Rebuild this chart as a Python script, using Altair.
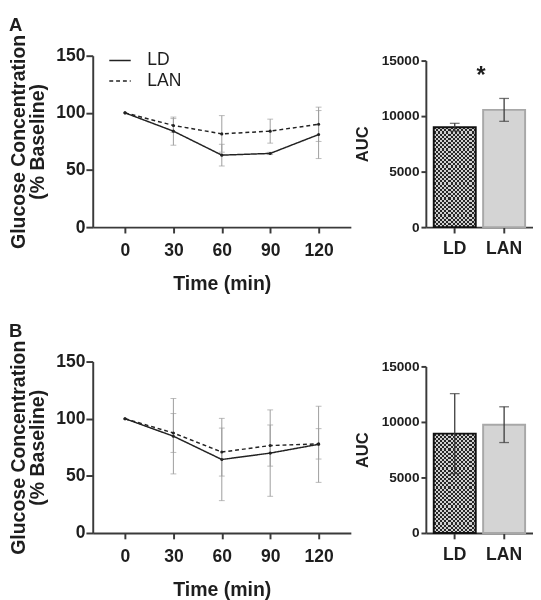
import altair as alt
import pandas as pd

FONT = "Liberation Sans"

time = [0, 30, 60, 90, 120]
groups = ["LD", "LAN"]
time_ticks = [0, 30, 60, 90, 120]
glucose_ticks = [0, 50, 100, 150]
auc_ticks = [0, 5000, 10000, 15000]

# Panel A
a_ld_mean = [100, 84, 63, 64.5, 81]
a_ld_sem = [0, 12.3, 9.5, 1, 21]
a_lan_mean = [100, 89, 81.6, 84, 90]
a_lan_sem = [0, 6, 16, 10.5, 15]
a_auc_mean = [9000, 10560]
a_auc_sem = [350, 1030]
a_sig = ["*", ""]

# Panel B
b_ld_mean = [100, 84.7, 64.3, 69.9, 77.6]
b_ld_sem = [0, 33, 36, 37.8, 33.3]
b_lan_mean = [100, 87.5, 70.8, 76.5, 78]
b_lan_sem = [0, 17, 21, 18, 13.3]
b_auc_mean = [8950, 9755]
b_auc_sem = [3600, 1610]
b_sig = ["", ""]

AXIS_COLOR = "#3a3a3a"
TEXT_COLOR = "#1e1e1e"


def stripes(c1, c2, n, across_x):
    stops = []
    for i in range(n):
        c = c1 if i % 2 == 0 else c2
        stops.append({"offset": i / n, "color": c})
        stops.append({"offset": (i + 1) / n, "color": c})
    if across_x:
        return {"gradient": "linear", "stops": stops, "x1": 0, "y1": 0, "x2": 1, "y2": 0}
    return {"gradient": "linear", "stops": stops, "x1": 0, "y1": 0, "x2": 0, "y2": 1}


# checker texture of the LD bar: columns, then rows blended with "difference"
CHECK_COLS = stripes("#262626", "#cfcfcf", 20, True)
CHECK_ROWS = stripes("#000000", "#f5f5f5", 47, False)


def line_panel(ld_m, ld_s, lan_m, lan_s, legend):
    rows = []
    for g, m, s in (("LD", ld_m, ld_s), ("LAN", lan_m, lan_s)):
        for t, mi, si in zip(time, m, s):
            rows.append({"time": t, "group": g, "mean": mi, "lo": mi - si, "hi": mi + si})
    df = pd.DataFrame(rows)
    base = alt.Chart(df)
    xs = alt.Scale(domain=[-20, 140], nice=False, zero=False)
    ys = alt.Scale(domain=[0, 150], nice=False)
    x = alt.X("time:Q", scale=xs,
              axis=alt.Axis(values=time_ticks, title="Time (min)", tickSize=6,
                            labelPadding=9, titlePadding=15))
    y = alt.Y("mean:Q", scale=ys,
              axis=alt.Axis(values=glucose_ticks,
                            title=["Glucose Concentration", "(% Baseline)"],
                            tickSize=7, labelPadding=1, titlePadding=8,
                            titleFontSize=20, titleLineHeight=20))
    errs = base.transform_filter("datum.hi > datum.lo")
    err = errs.mark_rule(color="#9c9c9c", strokeWidth=1).encode(
        x=alt.X("time:Q", scale=xs), y=alt.Y("lo:Q", scale=ys), y2="hi:Q")
    cap_lo = errs.mark_tick(orient="horizontal", size=6, thickness=1, color="#9c9c9c").encode(
        x=alt.X("time:Q", scale=xs), y=alt.Y("lo:Q", scale=ys))
    cap_hi = errs.mark_tick(orient="horizontal", size=6, thickness=1, color="#9c9c9c").encode(
        x=alt.X("time:Q", scale=xs), y=alt.Y("hi:Q", scale=ys))
    if legend:
        leg = alt.Legend(title=None, orient="none", legendX=16, legendY=-7,
                         symbolType="stroke", symbolSize=484, symbolStrokeWidth=1.5,
                         symbolStrokeColor="#222", labelFontSize=18, labelFont=FONT,
                         labelFontWeight="normal", labelColor=TEXT_COLOR, rowPadding=0,
                         labelOffset=16)
    else:
        leg = None
    lines = base.mark_line(color="#222", strokeWidth=1.5).encode(
        x=x, y=y,
        strokeDash=alt.StrokeDash("group:N", sort=groups,
                                  scale=alt.Scale(domain=groups, range=[[1, 0], [4, 3]]),
                                  legend=leg))
    pts = base.mark_circle(size=10, color="#222", opacity=1).encode(
        x=alt.X("time:Q", scale=xs), y=alt.Y("mean:Q", scale=ys))
    return alt.layer(err, cap_lo, cap_hi, lines, pts).properties(width=265, height=176)


def bar_panel(m, s, sig):
    df = pd.DataFrame({"group": groups, "mean": m,
                       "lo": [a - b for a, b in zip(m, s)],
                       "hi": [a + b for a, b in zip(m, s)],
                       "sig": sig})
    base = alt.Chart(df)
    xs = alt.Scale(domain=groups, paddingInner=0.15, paddingOuter=0.16)
    ys = alt.Scale(domain=[0, 15000], range=[176, 5], nice=False)
    x = alt.X("group:N", sort=groups, scale=xs,
              axis=alt.Axis(title=None, labelAngle=0, tickSize=6, labelPadding=7,
                            labelFontSize=18))
    y = alt.Y("mean:Q", scale=ys,
              axis=alt.Axis(values=auc_ticks, format="d", title="AUC", tickSize=5,
                            labelPadding=2, labelFontSize=14, titleFontSize=17,
                            titlePadding=10))
    ld = base.transform_filter("datum.group == 'LD'")
    lan = base.transform_filter("datum.group == 'LAN'")
    ld_cols = ld.mark_bar(fill=CHECK_COLS, strokeWidth=0).encode(x=x, y=y)
    ld_rows = ld.mark_bar(fill=CHECK_ROWS, strokeWidth=0, blend="difference").encode(
        x=alt.X("group:N", sort=groups, scale=xs), y=alt.Y("mean:Q", scale=ys))
    ld_edge = ld.mark_bar(fillOpacity=0, stroke="#111111", strokeWidth=2).encode(
        x=alt.X("group:N", sort=groups, scale=xs), y=alt.Y("mean:Q", scale=ys))
    lan_bar = lan.mark_bar(fill="#d4d4d4", stroke="#a8a8a8", strokeWidth=2).encode(
        x=alt.X("group:N", sort=groups, scale=xs), y=alt.Y("mean:Q", scale=ys))
    err = base.mark_rule(color="#383838", strokeWidth=1.3).encode(
        x=alt.X("group:N", sort=groups, scale=xs), y=alt.Y("lo:Q", scale=ys), y2="hi:Q")
    cap_lo = base.mark_tick(orient="horizontal", size=10, thickness=1.3, color="#383838").encode(
        x=alt.X("group:N", sort=groups, scale=xs), y=alt.Y("lo:Q", scale=ys))
    cap_hi = base.mark_tick(orient="horizontal", size=10, thickness=1.3, color="#383838").encode(
        x=alt.X("group:N", sort=groups, scale=xs), y=alt.Y("hi:Q", scale=ys))
    star = base.transform_filter("datum.sig != ''").mark_text(
        fontSize=24, fontWeight="bold", font=FONT, color=TEXT_COLOR, dx=27, baseline="middle"
    ).encode(x=alt.X("group:N", sort=groups, scale=xs),
             y=alt.datum(13600, scale=ys), text="sig:N")
    return alt.layer(ld_cols, ld_rows, ld_edge, lan_bar, err, cap_lo, cap_hi, star).properties(
        width=110, height=176)


def row(letter, line, bar):
    return alt.hconcat(line, bar, spacing=77, bounds="flush").properties(
        title=alt.TitleParams(letter, anchor="start", frame="bounds", fontSize=19,
                              fontWeight="bold", font=FONT, color=TEXT_COLOR, offset=-1))


row_a = row("A", line_panel(a_ld_mean, a_ld_sem, a_lan_mean, a_lan_sem, True),
            bar_panel(a_auc_mean, a_auc_sem, a_sig))
row_b = row("B", line_panel(b_ld_mean, b_ld_sem, b_lan_mean, b_lan_sem, False),
            bar_panel(b_auc_mean, b_auc_sem, b_sig))

chart = alt.vconcat(row_a, row_b, spacing=29).properties(
    padding=0
).configure_view(stroke=None).configure_axis(
    domainColor=AXIS_COLOR, domainWidth=2, tickColor=AXIS_COLOR, tickWidth=2,
    labelFont=FONT, labelFontWeight="bold", labelFontSize=18, labelColor=TEXT_COLOR,
    titleFont=FONT, titleFontWeight="bold", titleFontSize=20, titleColor=TEXT_COLOR,
    grid=False
)

chart.save("out.html", embed_options={"renderer": "svg", "actions": False})
